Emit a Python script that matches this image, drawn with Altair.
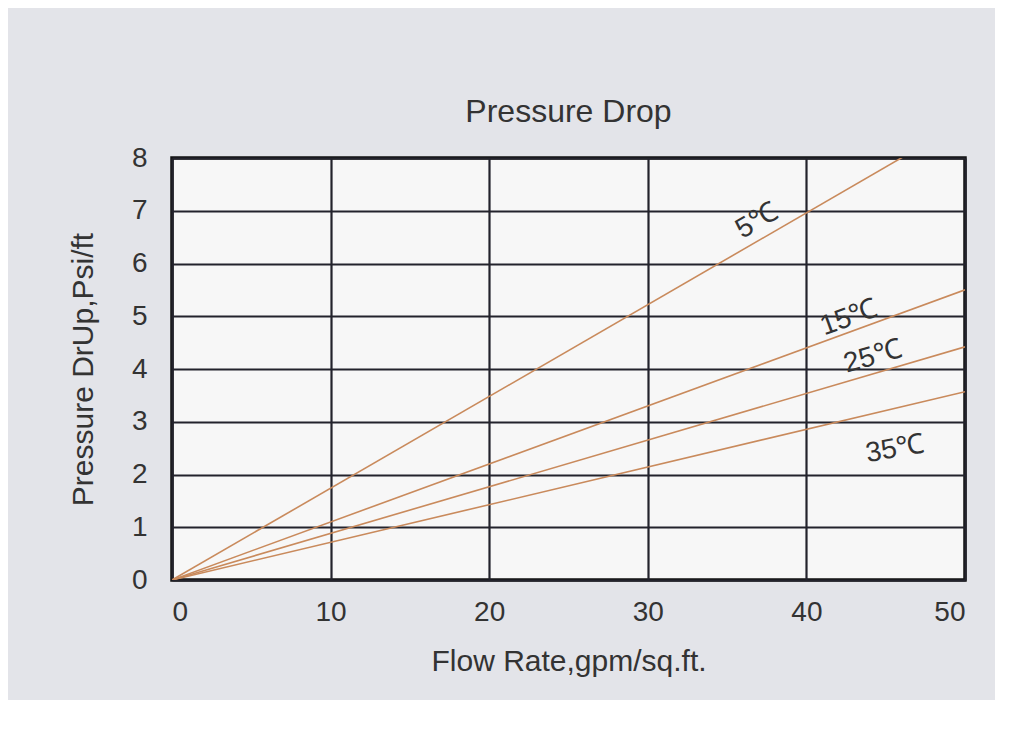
import altair as alt
import pandas as pd

# Series: temperature curves, straight lines from origin
series = ["5℃", "15℃", "25℃", "35℃"]
flow_start = [0, 0, 0, 0]
flow_end = [50, 50, 50, 50]
drop_start = [0, 0, 0, 0]
drop_end = [8.7, 5.5, 4.42, 3.57]

# Curve label annotations (data coordinates)
label_flow = [36.9, 42.7, 44.2, 45.6]
label_drop = [6.8, 4.97, 4.23, 2.48]
label_angle = [330, 340, 344, 350]

x_ticks = [0, 10, 20, 30, 40, 50]
y_ticks = [0, 1, 2, 3, 4, 5, 6, 7, 8]

rows = []
for s, x0, x1, y0, y1 in zip(series, flow_start, flow_end, drop_start, drop_end):
    rows.append({"series": s, "flow": x0, "drop": y0})
    rows.append({"series": s, "flow": x1, "drop": y1})
df = pd.DataFrame(rows)

df_labels = pd.DataFrame({
    "series": series,
    "flow": label_flow,
    "drop": label_drop,
    "angle": label_angle,
})

FONT = "Liberation Sans"
TEXT_COLOR = "#333333"

x_enc = alt.X(
    "flow:Q",
    scale=alt.Scale(domain=[0, 50], nice=False, zero=True),
    axis=alt.Axis(values=x_ticks, title="Flow Rate,gpm/sq.ft.", format="d",
                  labelPadding=18, titlePadding=20),
)
y_enc = alt.Y(
    "drop:Q",
    scale=alt.Scale(domain=[0, 8], nice=False),
    axis=alt.Axis(values=y_ticks, title="Pressure DrUp,Psi/ft", format="d",
                  labelPadding=25, titlePadding=33),
)

lines = alt.Chart(df).mark_line(
    color="#c98a5c", strokeWidth=1.6, clip=True
).encode(
    x=x_enc,
    y=y_enc,
    detail="series:N",
)

labels = alt.Chart(df_labels).mark_text(
    font=FONT, fontSize=28, color=TEXT_COLOR, align="center", baseline="middle"
).encode(
    x=alt.X("flow:Q"),
    y=alt.Y("drop:Q"),
    text="series:N",
    angle=alt.Angle("angle:Q", scale=None),
)

chart = (
    alt.layer(lines, labels)
    .properties(
        width=793,
        height=422,
        title=alt.TitleParams(
            "Pressure Drop", font=FONT, fontSize=32, fontWeight="normal",
            color=TEXT_COLOR, anchor="middle", offset=15,
        ),
        background="#e3e4e9",
        padding={"left": 164, "top": 150, "right": 30, "bottom": 120},
        autosize=alt.AutoSizeParams(type="none"),
    )
    .configure_view(stroke="#111111", strokeWidth=3.5, fill="#f7f7f7")
    .configure_axis(
        domain=False,
        ticks=False,
        grid=True,
        gridColor="#23232c",
        gridWidth=2.2,
        gridOpacity=1,
        labelFont=FONT,
        labelFontSize=28,
        labelColor=TEXT_COLOR,
        titleFont=FONT,
        titleFontSize=30,
        titleFontWeight="normal",
        titleColor=TEXT_COLOR,
    )
)

chart.save("out.html", embed_options={"renderer": "svg", "actions": False})
